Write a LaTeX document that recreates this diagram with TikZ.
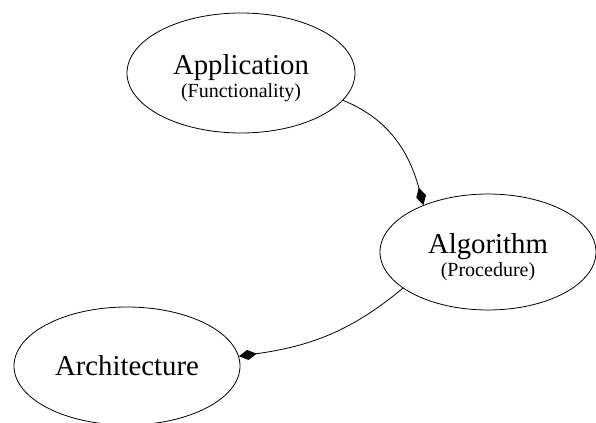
\documentclass[tikz,border=0pt]{standalone}
\usepackage{fontspec}
\setmainfont{Liberation Serif}
\usetikzlibrary{shapes.geometric,arrows.meta}
\newcommand\subline[1]{{\fontsize{10}{11}\selectfont #1}}
\newcommand\topstrut{\rule{0pt}{15pt}}
\begin{document}
\begin{tikzpicture}[x=0.5pt, y=-0.5pt, line join=round, line cap=round,
	>={Diamond[length=9pt,width=5pt]},
	level/.style={draw, ellipse, inner sep=0pt, align=center,
		font=\fontsize{14.4}{11.5}\selectfont}]
	\useasboundingbox (0,0) rectangle (596,423);
	\node[level, minimum width=114pt, minimum height=60pt] (app) at (241,73) {\topstrut Application\\\subline{(Functionality)}};
	\node[level, minimum width=108pt, minimum height=58pt] (alg) at (488,252) {\topstrut Algorithm\\\subline{(Procedure)}};
	\node[level, minimum width=113pt, minimum height=59pt] (arch) at (127,366) {Architecture};

	\draw[->] (app.-15) to[out=-22, in=105] (alg.144);
	\draw[->] (alg.-157) to[out=-140, in=8] (arch.5);
\end{tikzpicture}
\end{document}
